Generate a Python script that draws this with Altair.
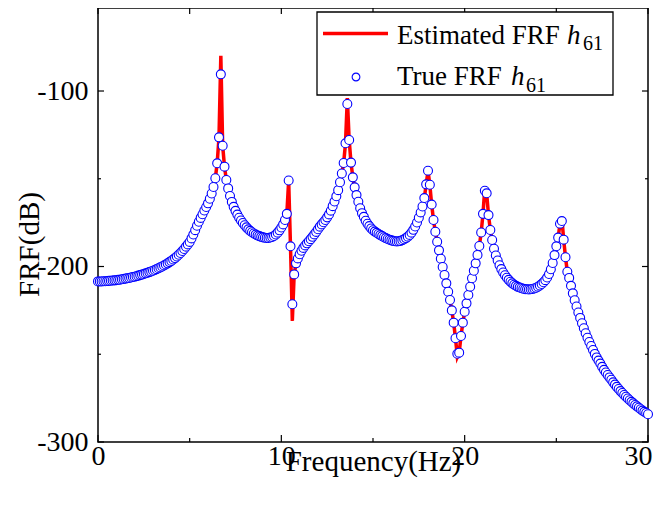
import altair as alt
import numpy as np
import pandas as pd

# ---------------- data ----------------
freq = np.round(np.arange(301) * 0.1, 1)  # 0 .. 30 Hz, 0.1 Hz step

true_db = [
    -208.5, -208.5, -208.5, -208.4, -208.4, -208.3, -208.2, -208.1, -208.0, -207.9,
    -207.8, -207.6, -207.5, -207.3, -207.1, -206.9, -206.7, -206.5, -206.3, -206.0,
    -205.8, -205.5, -205.2, -204.9, -204.6, -204.3, -203.9, -203.6, -203.2, -202.8,
    -202.4, -202.0, -201.5, -201.0, -200.5, -200.0, -199.4, -198.8, -198.2, -197.5,
    -196.8, -196.0, -195.2, -194.3, -193.3, -192.3, -191.2, -190.0, -188.7, -187.4,
    -186.0, -184.0, -181.8, -179.3, -176.8, -174.5, -172.3, -170.2, -168.1, -166.1,
    -164.0, -161.4, -158.4, -154.7, -149.7, -141.2, -126.4, -90.5, -131.2, -143.1,
    -150.7, -155.5, -159.8, -163.2, -166.0, -168.3, -170.4, -172.2, -173.8, -175.2,
    -176.5, -177.7, -178.8, -179.7, -180.5, -181.2, -181.8, -182.3, -182.7, -183.1,
    -183.4, -183.6, -183.7, -183.7, -183.5, -183.2, -182.6, -181.8, -180.7, -179.4,
    -177.8, -176.0, -173.5, -170.0, -151.0, -188.5, -221.5, -204.5, -198.2, -195.4,
    -193.0, -191.0, -189.4, -188.0, -186.8, -185.6, -184.4, -183.1, -181.7, -180.3,
    -178.8, -177.3, -176.0, -174.8, -173.5, -172.0, -170.3, -168.2, -165.6, -163.0,
    -160.0, -156.5, -152.0, -147.0, -141.0, -129.8, -107.4, -127.9, -140.8, -149.2,
    -154.9, -159.3, -163.1, -166.8, -169.6, -171.7, -173.9, -175.6, -177.0, -178.3,
    -179.3, -180.1, -180.8, -181.5, -182.1, -182.7, -183.3, -183.8, -184.3, -184.7,
    -185.1, -185.4, -185.6, -185.7, -185.6, -185.4, -185.0, -184.5, -183.8, -183.0,
    -182.0, -180.7, -179.1, -177.2, -174.9, -172.2, -169.2, -165.8, -161.0, -153.2,
    -145.4, -153.4, -164.7, -173.5, -180.2, -185.9, -190.8, -195.6, -200.3, -204.8,
    -209.6, -214.4, -219.1, -225.0, -232.0, -240.9, -249.7, -249.1, -239.6, -232.0,
    -225.8, -221.0, -216.2, -211.5, -206.7, -202.4, -198.2, -193.4, -188.3, -180.6,
    -170.0, -156.8, -158.3, -170.7, -179.2, -184.9, -189.9, -193.7, -196.6, -199.3,
    -201.5, -203.4, -205.0, -206.4, -207.6, -208.7, -209.6, -210.4, -211.0, -211.6,
    -212.0, -212.4, -212.7, -212.9, -213.0, -213.1, -213.0, -212.8, -212.5, -212.1,
    -211.5, -210.8, -210.0, -209.0, -207.8, -206.3, -204.3, -201.6, -198.0, -193.5,
    -188.5, -183.5, -175.6, -174.1, -184.7, -194.7, -203.0, -206.5, -211.0, -215.3,
    -219.2, -222.8, -226.2, -229.3, -232.3, -235.2, -238.0, -240.6, -243.0, -245.3,
    -247.6, -249.8, -251.8, -253.6, -255.3, -257.2, -258.9, -260.4, -261.8, -263.2,
    -264.5, -266.0, -267.3, -268.6, -269.8, -271.0, -272.1, -273.2, -274.2, -275.2,
    -276.2, -277.1, -278.0, -278.9, -279.7, -280.5, -281.3, -282.1, -282.8, -283.5,
    -284.2,
]

# estimated FRF differs from the true one only at the sharp peaks / notches
est_fix_freq = [6.7, 10.6, 13.6, 19.6, 21.1, 25.3]
est_fix_db = [-80.0, -231.0, -104.0, -251.5, -155.0, -172.0]

x_label_values = [0, 10, 20, 30]
y_label_values = [-300, -200, -100]
x_major_ticks = [0, 10, 20, 30]
x_minor_ticks = [5, 15, 25]
y_major_ticks = [-300, -200, -100]
y_minor_ticks = [-250, -150]

est_db = list(true_db)
for ff, vv in zip(est_fix_freq, est_fix_db):
    est_db[int(round(ff * 10))] = vv

df = pd.DataFrame({"f": freq, "true": true_db, "est": est_db})

# ---------------- layout ----------------
W, H = 550, 434
FONT = "Liberation Serif"

x_scale = alt.Scale(domain=[0, 30], nice=False, zero=False)
y_scale = alt.Scale(domain=[-300, -52.7], nice=False, zero=False)

x_axis = alt.Axis(values=x_label_values, title="Frequency(Hz)",
                  titleX=275, titleY=28, titleAlign="center",
                  titleBaseline="alphabetic",
                  labelBaseline="alphabetic", labelPadding=22,
                  labelAlign="center", labelExpr="'' + datum.value",
                  labelOffset={"condition": {"test": "datum.value == 30",
                                             "value": -10},
                               "value": 0})
y_axis = alt.Axis(values=y_label_values, title="FRF(dB)",
                  titleX=-60, titleY=236, titleAngle=270,
                  titleAlign="center", titleBaseline="alphabetic",
                  labelBaseline="middle", labelAlign="right",
                  labelPadding=10, labelExpr="'' + datum.value")

line = alt.Chart(df).mark_line(color="#ff0000", strokeWidth=3.5).encode(
    x=alt.X("f:Q", scale=x_scale, axis=x_axis),
    y=alt.Y("est:Q", scale=y_scale, axis=y_axis),
)

points = alt.Chart(df).mark_point(
    shape="circle", filled=True, fill="white", stroke="#0000ff",
    strokeWidth=1.1, size=80, opacity=1,
).encode(
    x=alt.X("f:Q", scale=x_scale, axis=x_axis),
    y=alt.Y("true:Q", scale=y_scale, axis=y_axis),
)


def xticks(vals, y1, y2):
    return alt.Chart(pd.DataFrame({"v": vals})).mark_rule(
        color="black", strokeWidth=1.2).encode(
        x=alt.X("v:Q", scale=x_scale, axis=x_axis),
        y=alt.value(y1), y2=alt.value(y2))


def yticks(vals, x1, x2):
    return alt.Chart(pd.DataFrame({"v": vals})).mark_rule(
        color="black", strokeWidth=1.2).encode(
        y=alt.Y("v:Q", scale=y_scale, axis=y_axis),
        x=alt.value(x1), x2=alt.value(x2))


tick_layers = [
    xticks(x_major_ticks, H, H - 7),
    xticks(x_minor_ticks, H, H - 4),
    xticks(x_major_ticks + x_minor_ticks, 0, 6),
    yticks(y_major_ticks, 0, 6),
    yticks(y_minor_ticks, 0, 3),
    yticks(y_major_ticks, W, W - 6),
    yticks(y_minor_ticks, W, W - 3),
]

one = pd.DataFrame({"a": [0]})

legend_box = alt.Chart(one).mark_rect(
    fill="white", stroke="black", strokeWidth=1.3).encode(
    x=alt.value(219), x2=alt.value(515), y=alt.value(4), y2=alt.value(87))

legend_line = alt.Chart(one).mark_rule(color="#ff0000", strokeWidth=3.5).encode(
    x=alt.value(225), x2=alt.value(290), y=alt.value(25.5))

legend_pt = alt.Chart(one).mark_point(
    shape="circle", filled=True, fill="white", stroke="#0000ff",
    strokeWidth=1.1, size=60, opacity=1).encode(
    x=alt.value(258), y=alt.value(69))


def txt(s, x, y, size=27, style="normal"):
    return alt.Chart(one).mark_text(
        align="left", baseline="alphabetic", font=FONT, fontSize=size,
        fontStyle=style, color="black").encode(
        x=alt.value(x), y=alt.value(y), text=alt.value(s))


legend_txt = [
    txt("Estimated FRF", 299, 35.5),
    txt("h", 469, 35.5, style="italic"),
    txt("61", 485, 42, size=20),
    txt("True FRF", 299, 77),
    txt("h", 413, 77, style="italic"),
    txt("61", 428, 83.5, size=20),
]

chart = alt.layer(
    line, points, *tick_layers, legend_box, legend_line, legend_pt, *legend_txt
).properties(
    width=W, height=H,
    autosize=alt.AutoSizeParams(type="none"),
    padding={"left": 90, "top": 0, "right": 6, "bottom": 55},
).configure_view(
    stroke="black", strokeWidth=1.5
).configure_axis(
    grid=False, domain=False, ticks=False,
    labelFont=FONT, labelFontSize=28, labelColor="black", labelFlush=False,
    labelOverlap=False,
    titleFont=FONT, titleFontSize=29, titleFontWeight="normal", titleColor="black",
)

chart.save("out.html", embed_options={"renderer": "svg", "actions": False})
